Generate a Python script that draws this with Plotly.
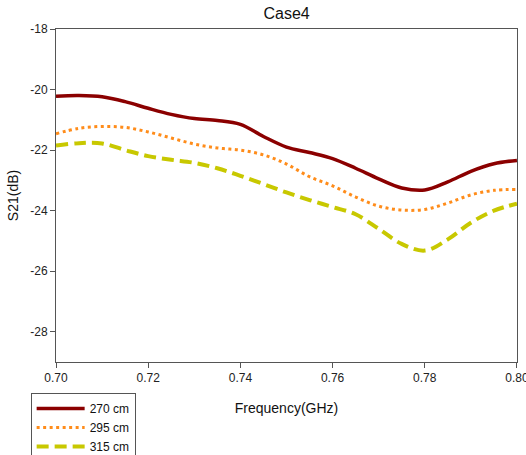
import plotly.graph_objects as go

freq = [0.700, 0.705, 0.710, 0.715, 0.720, 0.725, 0.730, 0.735, 0.740, 0.745, 0.750,
        0.755, 0.760, 0.765, 0.770, 0.775, 0.780, 0.785, 0.790, 0.795, 0.800]
s21_270 = [-20.22, -20.20, -20.24, -20.40, -20.62, -20.82, -20.96, -21.02, -21.15, -21.55, -21.90,
           -22.08, -22.28, -22.60, -22.95, -23.25, -23.32, -23.05, -22.70, -22.45, -22.34]
s21_295 = [-21.46, -21.28, -21.22, -21.25, -21.40, -21.60, -21.80, -21.93, -22.00, -22.16, -22.46,
           -22.88, -23.18, -23.55, -23.85, -23.98, -23.96, -23.75, -23.48, -23.33, -23.30]
s21_315 = [-21.85, -21.77, -21.78, -22.00, -22.20, -22.32, -22.42, -22.60, -22.85, -23.12, -23.40,
           -23.65, -23.88, -24.12, -24.60, -25.10, -25.32, -24.95, -24.40, -24.00, -23.77]
names = ["270 cm", "295 cm", "315 cm"]
y_ticks = [-28, -26, -24, -22, -20, -18]
x_ticks = [0.70, 0.72, 0.74, 0.76, 0.78, 0.80]

fig = go.Figure()
fig.add_trace(go.Scatter(x=freq, y=s21_270, name=names[0], mode="lines",
                         line=dict(color="#8B0000", width=3.5, shape="spline")))
fig.add_trace(go.Scatter(x=freq, y=s21_295, name=names[1], mode="lines",
                         line=dict(color="#FF8C1A", width=3, dash="3px,3.5px", shape="spline")))
fig.add_trace(go.Scatter(x=freq, y=s21_315, name=names[2], mode="lines",
                         line=dict(color="#C8C800", width=4, dash="12px,6px", shape="spline")))

axis_common = dict(showline=True, linecolor="#555555", linewidth=1, mirror=True,
                   ticks="outside", ticklen=5, tickcolor="#555555", showgrid=False,
                   zeroline=False, ticklabeloverflow="allow",
                   tickfont=dict(family="Liberation Sans, Arial", size=12, color="#222"))

fig.update_layout(
    width=526, height=455,
    margin=dict(l=56, r=9, t=29, b=93, autoexpand=False),
    plot_bgcolor="white", paper_bgcolor="white",
    title=dict(text="Case4", x=0.5449, xanchor="center", y=0.97, yanchor="middle",
               font=dict(family="Liberation Sans, Arial", size=16, color="#111")),
    xaxis=dict(range=[0.70, 0.80001], tickvals=x_ticks, ticktext=[f"{v:.2f}" for v in x_ticks],
               title=dict(text="Frequency(GHz)", standoff=18,
                          font=dict(family="Liberation Sans, Arial", size=14, color="#111")),
               **axis_common),
    yaxis=dict(range=[-29, -18], tickvals=y_ticks, ticktext=[str(v) for v in y_ticks],
               title=dict(text="S21(dB)", standoff=8,
                          font=dict(family="Liberation Sans, Arial", size=14, color="#111")),
               **axis_common),
    legend=dict(x=-0.055, xanchor="left", y=-0.093, yanchor="top",
                bordercolor="#555555", borderwidth=1, bgcolor="white",
                font=dict(family="Liberation Sans, Arial", size=12, color="#111"),
                tracegroupgap=0, itemwidth=48),
    showlegend=True,
)

fig.write_html("out.html")
